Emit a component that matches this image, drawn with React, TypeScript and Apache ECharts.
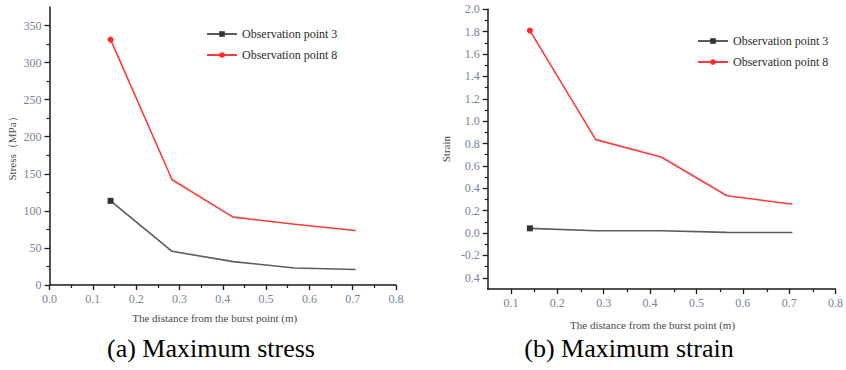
import React, { useEffect, useRef } from "react";
import * as echarts from "echarts";

// Distance of each observation from the burst point (m)
const distance = [0.141, 0.283, 0.424, 0.566, 0.707];

// Maximum stress (MPa)
const stressPoint3 = [113.5, 45.5, 31.5, 23, 21];
const stressPoint8 = [331, 142, 91.5, 82, 73.5];

// Maximum strain
const strainPoint3 = [0.042, 0.021, 0.02, 0.006, 0.005];
const strainPoint8 = [1.81, 0.835, 0.68, 0.334, 0.258];

// Tick positions and labels
const stressTicks = [0, 50, 100, 150, 200, 250, 300, 350];
const stressMinorTicks = [25, 75, 125, 175, 225, 275, 325];
const distanceTicksA = [0, 0.1, 0.2, 0.3, 0.4, 0.5, 0.6, 0.7, 0.8];
const distanceMinorA = [0.05, 0.15, 0.25, 0.35, 0.45, 0.55, 0.65, 0.75];
const strainTicks = [-0.4, -0.2, 0, 0.2, 0.4, 0.6, 0.8, 1.0, 1.2, 1.4, 1.6, 1.8, 2.0];
const strainTickLabels = ["0.4", "-0.2", "0.0", "0.2", "0.4", "0.6", "0.8", "1.0", "1.2", "1.4", "1.6", "1.8", "2.0"];
const strainMinorTicks = [-0.3, -0.1, 0.1, 0.3, 0.5, 0.7, 0.9, 1.1, 1.3, 1.5, 1.7, 1.9];
const distanceTicksB = [0.1, 0.2, 0.3, 0.4, 0.5, 0.6, 0.7, 0.8];
const distanceMinorB = [0.15, 0.25, 0.35, 0.45, 0.55, 0.65, 0.75];

const SERIF = "'Liberation Serif', 'Times New Roman', serif";
const LABEL_COLOR = "#76839c";
const AXIS_COLOR = "#1a1a1a";
const NAME_3 = "Observation point 3";
const NAME_8 = "Observation point 8";

const gridA = { left: 49.5, right: 450, top: 7, bottom: 85 };
const gridB = { left: 487.7, right: 9.3, top: 9.3, bottom: 81 };

function majorAxis(opts: any) {
  const { ticks, labels, min, max, gridIndex, name, nameGap, namePadding, rotate } = opts;
  return {
    type: "value",
    gridIndex,
    min,
    max,
    name,
    nameLocation: "middle",
    nameGap,
    nameRotate: rotate ? 90 : 0,
    nameTextStyle: {
      fontFamily: SERIF,
      fontSize: 11,
      color: "#4a4a4a",
      padding: namePadding || 0,
    },
    axisLine: { show: true, onZero: false, lineStyle: { color: AXIS_COLOR, width: 1.5 } },
    axisTick: {
      show: true,
      inside: false,
      length: 5,
      customValues: ticks,
      lineStyle: { color: AXIS_COLOR, width: 1.3 },
    },
    axisLabel: {
      show: true,
      customValues: ticks,
      margin: 8,
      fontFamily: SERIF,
      fontSize: 12,
      color: LABEL_COLOR,
      formatter: (v: number) => {
        const i = ticks.findIndex((t: number) => Math.abs(t - v) < 1e-9);
        return i >= 0 ? labels[i] : "";
      },
    },
    splitLine: { show: false },
  };
}

function minorAxis(opts: any) {
  const { ticks, min, max, gridIndex } = opts;
  return {
    type: "value",
    gridIndex,
    min,
    max,
    axisLine: { show: false, onZero: false },
    axisTick: {
      show: true,
      inside: false,
      length: 3,
      customValues: ticks,
      lineStyle: { color: AXIS_COLOR, width: 1.2 },
    },
    axisLabel: { show: false },
    splitLine: { show: false },
  };
}

function lineSeries(name: string, values: number[], xi: number, yi: number, color: string, lineColor: string, symbol: string) {
  return {
    type: "line",
    name,
    xAxisIndex: xi,
    yAxisIndex: yi,
    symbol,
    symbolSize: 6,
    showSymbol: true,
    itemStyle: { color },
    lineStyle: { color: lineColor, width: 1.6 },
    data: distance.map((x, i) => ({
      value: [x, values[i]],
      symbol: i === 0 ? symbol : "none",
    })),
  };
}

function legendAt(left: number, top: number) {
  return {
    data: [NAME_3, NAME_8],
    orient: "vertical",
    left,
    top,
    itemWidth: 30,
    itemHeight: 7,
    itemGap: 9,
    selectedMode: false,
    textStyle: { fontFamily: SERIF, fontSize: 12, color: "#2b2b2b" },
  };
}

const fmt1 = (vals: number[]) => vals.map((v) => v.toFixed(1));

export default function App() {
  const ref = useRef<HTMLDivElement>(null);

  useEffect(() => {
    if (!ref.current) return;
    const chart = echarts.init(ref.current, null, { renderer: "svg" });

    chart.setOption({
      animation: false,
      backgroundColor: "#ffffff",
      textStyle: { fontFamily: SERIF },
      grid: [
        { ...gridA, containLabel: false },
        { ...gridA, containLabel: false },
        { ...gridB, containLabel: false },
        { ...gridB, containLabel: false },
      ],
      xAxis: [
        majorAxis({
          ticks: distanceTicksA,
          labels: fmt1(distanceTicksA),
          min: 0,
          max: 0.8,
          gridIndex: 0,
          name: "The distance from the burst point (m)",
          nameGap: 27,
          namePadding: [0, 16, 0, 0],
        }),
        minorAxis({ ticks: distanceMinorA, min: 0, max: 0.8, gridIndex: 1 }),
        majorAxis({
          ticks: distanceTicksB,
          labels: fmt1(distanceTicksB),
          min: 0.05,
          max: 0.8,
          gridIndex: 2,
          name: "The distance from the burst point (m)",
          nameGap: 30,
          namePadding: [0, 18, 0, 0],
        }),
        minorAxis({ ticks: distanceMinorB, min: 0.05, max: 0.8, gridIndex: 3 }),
      ],
      yAxis: [
        majorAxis({
          ticks: stressTicks,
          labels: stressTicks.map(String),
          min: 0,
          max: 375,
          gridIndex: 0,
          name: "Stress（MPa）",
          nameGap: 32,
          rotate: true,
        }),
        minorAxis({ ticks: stressMinorTicks, min: 0, max: 375, gridIndex: 1 }),
        majorAxis({
          ticks: strainTicks,
          labels: strainTickLabels,
          min: -0.5,
          max: 2.0,
          gridIndex: 2,
          name: "Strain",
          nameGap: 36,
          rotate: true,
        }),
        minorAxis({ ticks: strainMinorTicks, min: -0.5, max: 2.0, gridIndex: 3 }),
      ],
      legend: [legendAt(201, 23), legendAt(692, 30)],
      series: [
        lineSeries(NAME_3, stressPoint3, 0, 0, "#333333", "#5c5c5c", "rect"),
        lineSeries(NAME_8, stressPoint8, 0, 0, "#ff2a2a", "#ff3b3b", "circle"),
        lineSeries(NAME_3, strainPoint3, 2, 2, "#333333", "#5c5c5c", "rect"),
        lineSeries(NAME_8, strainPoint8, 2, 2, "#ff2a2a", "#ff3b3b", "circle"),
      ],
      graphic: [
        {
          type: "text",
          x: 211,
          y: 348,
          style: {
            text: "(a) Maximum stress",
            fontFamily: SERIF,
            fontSize: 26,
            fill: "#000000",
            align: "center",
            verticalAlign: "middle",
          },
        },
        {
          type: "text",
          x: 629,
          y: 348,
          style: {
            text: "(b) Maximum strain",
            fontFamily: SERIF,
            fontSize: 26,
            fill: "#000000",
            align: "center",
            verticalAlign: "middle",
          },
        },
      ],
    });

    return () => chart.dispose();
  }, []);

  return (
    <div
      ref={ref}
      style={{ position: "fixed", left: 0, top: 0, width: 846, height: 370, background: "#fff" }}
    />
  );
}
